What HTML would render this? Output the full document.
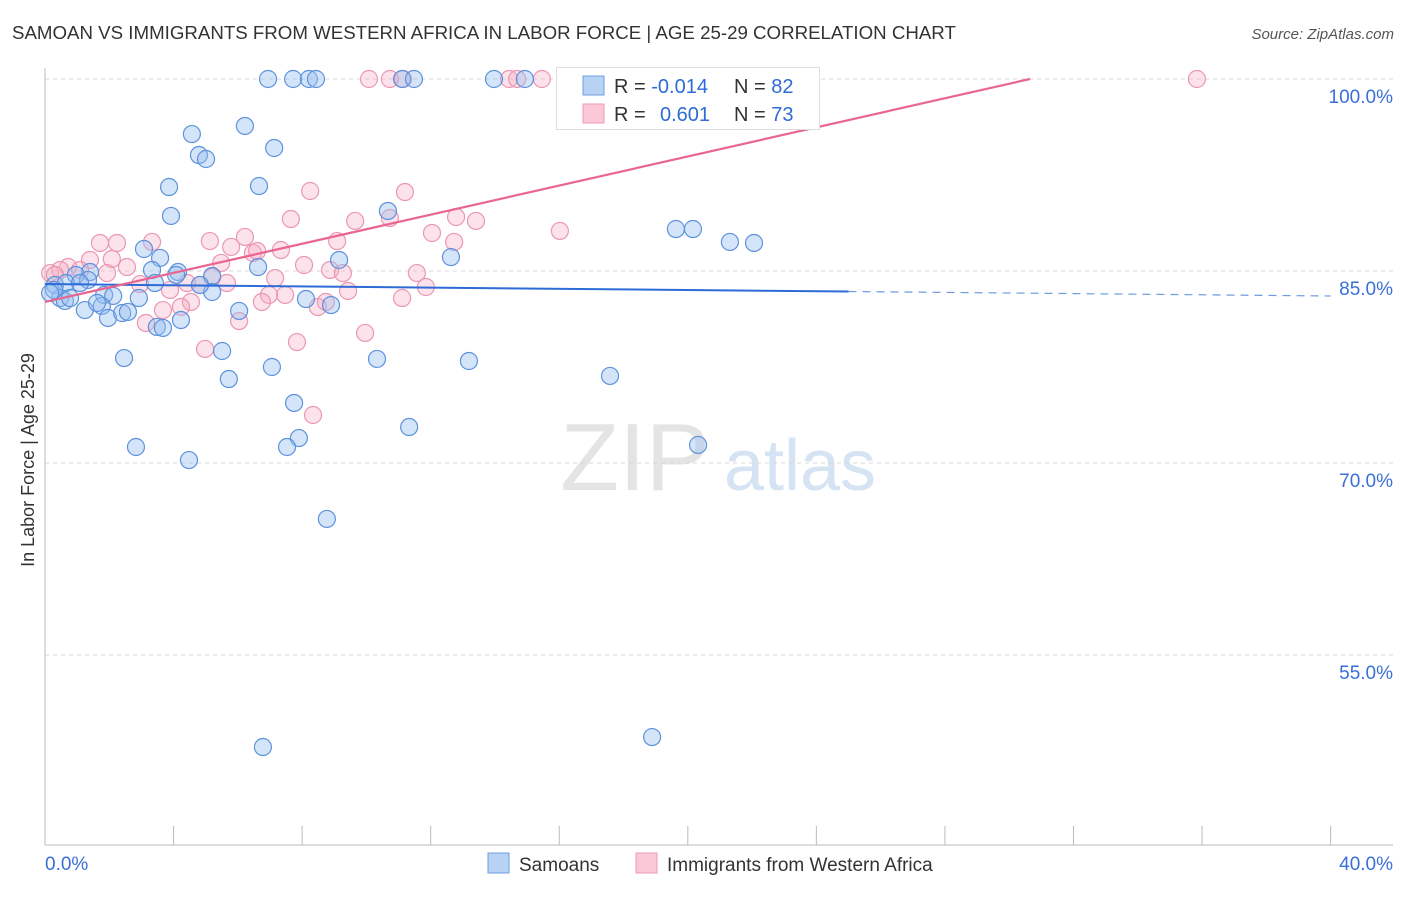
<!DOCTYPE html>
<html><head><meta charset="utf-8">
<style>
body{margin:0;background:#fff;font-family:"Liberation Sans",sans-serif;}
svg text{font-family:"Liberation Sans",sans-serif;}
</style></head>
<body>
<svg id="chart" width="1406" height="892" xmlns="http://www.w3.org/2000/svg">
<text x="12" y="39" font-size="18.7" fill="#333">SAMOAN VS IMMIGRANTS FROM WESTERN AFRICA IN LABOR FORCE | AGE 25-29 CORRELATION CHART</text>
<text x="1394" y="39" font-size="15" fill="#555" font-style="italic" text-anchor="end">Source: ZipAtlas.com</text>
<text x="34" y="460" font-size="18" fill="#333" text-anchor="middle" transform="rotate(-90 34 460)">In Labor Force | Age 25-29</text>
<g><text x="635" y="490" font-size="96" fill="#e4e4e4" text-anchor="middle" font-family="Liberation Serif, serif">ZIP</text><text x="800" y="490" font-size="72" fill="#d6e3f3" text-anchor="middle">atlas</text></g>
<g id="grid"></g>
<g id="axes"></g>
<g id="pts"></g>
<g id="lines"></g>
<g>
<rect x="556.5" y="67.5" width="263" height="62" fill="#fff" stroke="#ddd"/>
<rect x="583" y="76" width="21" height="19" fill="#b8d2f3" stroke="#6e9fe0"/>
<rect x="583" y="104" width="21" height="19" fill="#fbc8d7" stroke="#ec9ab4"/>
<text x="614" y="93" font-size="20" fill="#333">R = <tspan fill="#2d6bd6">-0.014</tspan></text>
<text x="734" y="93" font-size="20" fill="#333">N = <tspan fill="#2d6bd6">82</tspan></text>
<text x="614" y="121" font-size="20" fill="#333">R = </text>
<text x="660" y="121" font-size="20" fill="#2d6bd6">0.601</text>
<text x="734" y="121" font-size="20" fill="#333">N = <tspan fill="#2d6bd6">73</tspan></text>
</g>
<g>
<rect x="488" y="853" width="21" height="20" fill="#b8d2f3" stroke="#6e9fe0"/>
<text x="519" y="871" font-size="19" fill="#333">Samoans</text>
<rect x="636" y="853" width="21" height="20" fill="#fbc8d7" stroke="#ec9ab4"/>
<text x="667" y="871" font-size="19" fill="#333">Immigrants from Western Africa</text>
</g>
</svg>
<script>
const yTicks=[100,85,70,55];
const xTickVals=[0,4,8,12,16,20,24,28,32,36,40];
const blueX=[6.94,7.72,8.21,8.43,11.11,11.48,13.97,14.93,4.57,6.22,4.79,5.01,7.13,3.86,6.66,3.92,10.67,19.63,20.16,21.31,22.06,3.08,3.58,4.14,9.15,12.63,6.63,3.33,4.08,5.20,1.40,0.96,1.34,0.31,0.65,1.09,1.84,2.12,2.92,3.42,5.20,8.12,8.90,0.47,0.62,1.24,1.77,1.62,1.96,2.40,2.58,4.23,3.48,3.67,6.04,5.51,2.46,10.33,13.19,17.58,5.72,7.06,7.75,11.33,7.90,7.53,2.83,4.48,20.32,8.77,6.78,18.89,0.28,0.16,0.78,4.82];
const blueY=[100,100,100,100,100,100,100,100,95.70,96.33,94.06,93.75,94.61,91.56,91.64,89.30,89.69,88.28,88.28,87.27,87.19,86.72,86.02,84.92,85.86,86.09,85.31,85.08,84.69,84.61,84.92,84.69,84.30,83.91,84.06,84.06,83.13,83.05,82.89,84.06,83.36,82.81,82.34,82.89,82.66,81.95,82.27,82.50,81.33,81.72,81.80,81.17,80.63,80.55,81.88,78.75,78.20,78.13,77.97,76.80,76.56,77.50,74.69,72.81,71.95,71.25,71.25,70.23,71.41,65.63,47.81,48.59,83.52,83.28,82.89,83.91];
const pinkX=[10.08,10.73,11.14,14.44,14.69,15.46,22.25,35.84,8.25,11.20,7.65,9.65,10.73,12.79,13.41,16.02,12.04,12.73,9.09,7.34,6.22,5.79,5.13,6.47,6.60,1.71,2.24,3.33,5.48,8.06,8.87,9.27,11.57,11.85,11.11,9.43,7.16,7.47,6.97,6.75,8.49,8.74,6.04,5.66,5.20,4.54,4.23,3.67,3.14,4.98,7.84,9.96,8.34,2.08,1.40,0.72,0.47,0.16,1.93,2.55,2.96,3.89,4.42,4.82,0.31,1.09];
const pinkY=[100,100,100,100,100,100,100,100,91.25,91.17,89.06,88.91,89.14,89.22,88.91,88.13,87.97,87.27,87.34,86.64,87.66,86.88,87.34,86.41,86.56,87.19,87.19,87.27,85.63,85.47,85.08,84.84,84.84,83.75,82.89,83.44,84.45,83.13,83.13,82.58,82.19,82.58,81.09,84.06,84.53,82.58,82.19,81.95,80.94,78.91,79.45,80.16,73.75,85.94,85.86,85.31,85.08,84.84,84.84,85.31,83.98,83.52,84.06,83.91,84.69,85.08];
const blueFit=[83.98,-0.0233];
const pinkFit=[82.58,0.5684];
const NS="http://www.w3.org/2000/svg";
const X=v=>45+v*32.14, Y=v=>79+(100-v)*12.8;
function mk(t,a,p){const e=document.createElementNS(NS,t);for(const k in a)e.setAttribute(k,a[k]);p.appendChild(e);return e;}
const grid=document.getElementById('grid'),axes=document.getElementById('axes'),pts=document.getElementById('pts'),lines=document.getElementById('lines');
yTicks.forEach(v=>{
const l=mk('line',{x1:45,x2:1393,y1:Y(v),y2:Y(v),stroke:'#d8d8d8','stroke-dasharray':'4 4'},grid);


const t=mk('text',{x:1393,y:Y(v)+24,'font-size':19,fill:'#3a6fd8','text-anchor':'end'},axes);
t.textContent=v.toFixed(1)+'%';


});
const ax=mk('line',{x1:45,x2:1393,y1:845,y2:845,stroke:'#bbb'},axes);


const ay=mk('line',{x1:45,x2:45,y1:68,y2:845,stroke:'#bbb'},axes);


xTickVals.forEach(v=>{const t=mk('line',{x1:X(v),x2:X(v),y1:826,y2:845,stroke:'#bbb'},axes);

});
[[0,'start'],[40,'end']].forEach(([v,a])=>{const t=mk('text',{x:v===0?45:1393,y:870,'font-size':19,fill:'#3a6fd8','text-anchor':a},axes);t.textContent=v.toFixed(1)+'%';

});
function dots(xs,ys,fill,stroke,name){xs.forEach((x,i)=>{const c=mk('circle',{cx:X(x),cy:Y(ys[i]),r:8.5,fill:fill,stroke:stroke,'stroke-width':1.2},pts);

});}
dots(pinkX,pinkY,'rgba(246,172,196,0.35)','#eb97b2','point-immigrants');
dots(blueX,blueY,'rgba(150,190,240,0.4)','#5d92dd','point-samoans');
const f=(p,x)=>p[0]+p[1]*x;
const b1=mk('line',{x1:X(0),y1:Y(f(blueFit,0)),x2:X(25),y2:Y(f(blueFit,25)),stroke:'#2d6bd6','stroke-width':2},lines);


const b2=mk('line',{x1:X(25),y1:Y(f(blueFit,25)),x2:X(40),y2:Y(f(blueFit,40)),stroke:'#6d9be0','stroke-width':1.2,'stroke-dasharray':'8 6'},lines);


const xe=(100-pinkFit[0])/pinkFit[1];
const p1=mk('line',{x1:X(0),y1:Y(f(pinkFit,0)),x2:X(xe),y2:Y(100),stroke:'#e8668f','stroke-width':2.2},lines);


</script>
</body></html>
